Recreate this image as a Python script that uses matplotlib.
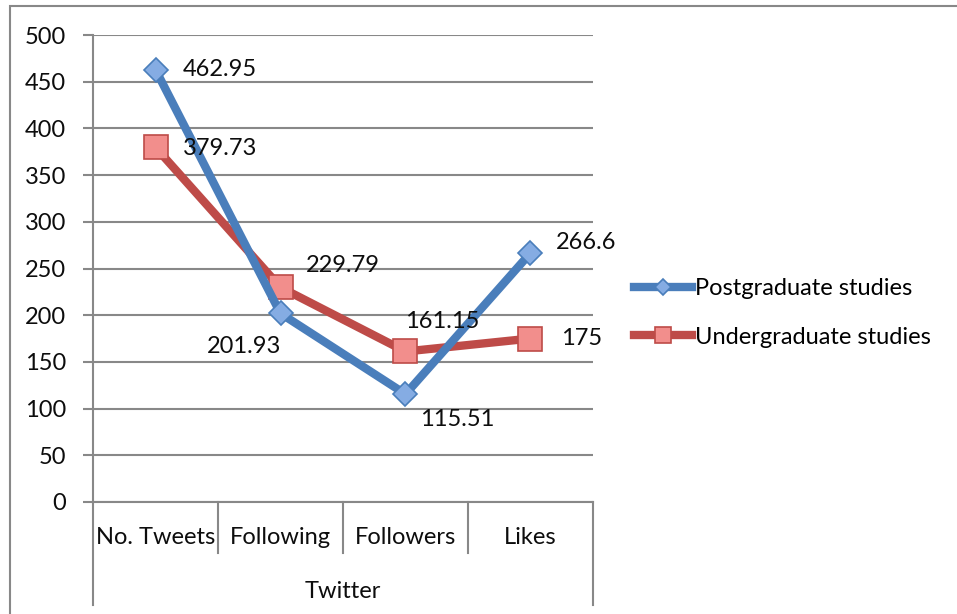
#!/usr/bin/env python
# -*- coding: utf-8 -*-

import matplotlib
matplotlib.use('Agg')
import matplotlib.pyplot as plt
from matplotlib.patches import Rectangle

# データ
categories = ['No. Tweets', 'Following', 'Followers', 'Likes']
group_label = 'Twitter'
postgrad = [462.95, 201.93, 115.51, 266.6]
undergrad = [379.73, 229.79, 161.15, 175]
postgrad_labels = ['462.95', '201.93', '115.51', '266.6']
undergrad_labels = ['379.73', '229.79', '161.15', '175']

plt.rcParams['font.family'] = ['Lato', 'DejaVu Sans']
fs = 17
grey = '#888888'
txt = '#0d0d0d'

fig = plt.figure(figsize=(9.57, 6.14), dpi=100)
ax = fig.add_axes([93 / 957, 1 - 502 / 614, 500 / 957, 467 / 614])

# 外枠
fig.patches.append(Rectangle((10 / 957, -0.1), 1.2, 1.1 - 6 / 614,
                             transform=fig.transFigure, fill=False,
                             edgecolor=grey, linewidth=1.5))

x = list(range(len(categories)))

# 折れ線
ax.plot(x, postgrad, color='#4A7EBB', linewidth=6, marker='D',
        markersize=12, markerfacecolor='#85ACE3', markeredgecolor='#4A7EBB',
        markeredgewidth=1.2, label='Postgraduate studies', zorder=4)
ax.plot(x, undergrad, color='#BE4B48', linewidth=6, marker='s',
        markersize=17, markerfacecolor='#F28E8C', markeredgecolor='#BE4B48',
        markeredgewidth=1.2, label='Undergraduate studies', zorder=3)

# データラベル
pg_off = [(27, 0, 'left'), (-36, -33, 'center'), (15, -25, 'left'), (25, 10, 'left')]
ug_off = [(27, -1, 'left'), (25, 22, 'left'), (0, 30, 'left'), (31, 0, 'left')]
for xi, v, t, (dx, dy, ha) in zip(x, postgrad, postgrad_labels, pg_off):
    ax.annotate(t, (xi, v), xytext=(dx, dy), textcoords='offset pixels',
                ha=ha, va='center', fontsize=fs, color=txt, zorder=5)
for xi, v, t, (dx, dy, ha) in zip(x, undergrad, undergrad_labels, ug_off):
    ax.annotate(t, (xi, v), xytext=(dx, dy), textcoords='offset pixels',
                ha=ha, va='center', fontsize=fs, color=txt, zorder=5)

# 軸
ax.set_xlim(-0.5, len(categories) - 0.5)
ax.set_ylim(0, 500)
ax.set_yticks(range(0, 501, 50))
ax.yaxis.grid(True, color=grey, linewidth=1.5)
ax.set_axisbelow(True)
for s in ['top', 'right']:
    ax.spines[s].set_visible(False)
for s in ['left', 'bottom']:
    ax.spines[s].set_color(grey)
    ax.spines[s].set_linewidth(1.5)
ax.tick_params(axis='y', length=7.2, width=1.5, color=grey, pad=12,
               labelsize=fs, labelcolor=txt)
ax.set_xticks(x)
ax.set_xticklabels(categories)
ax.tick_params(axis='x', length=0, pad=18, labelsize=fs, labelcolor=txt)

# カテゴリ区切り線
h = 467
for i in range(len(categories) + 1):
    xb = i - 0.5
    low = -103 / h if i in (0, len(categories)) else -51 / h
    ax.plot([xb, xb], [0, low], transform=ax.get_xaxis_transform(),
            color=grey, linewidth=1.5, clip_on=False)
ax.text(1.5, -89 / h, group_label, transform=ax.get_xaxis_transform(),
        ha='center', va='center', fontsize=fs, color=txt)

# 凡例
ax.legend(loc='center left', bbox_to_anchor=(634 / 957, 1 - 313 / 614),
          bbox_transform=fig.transFigure, frameon=False, fontsize=fs,
          handlelength=2.45, handletextpad=0.15, labelspacing=1.15,
          markerscale=0.7, borderpad=0, borderaxespad=0)

fig.savefig('out.png', dpi=100)
